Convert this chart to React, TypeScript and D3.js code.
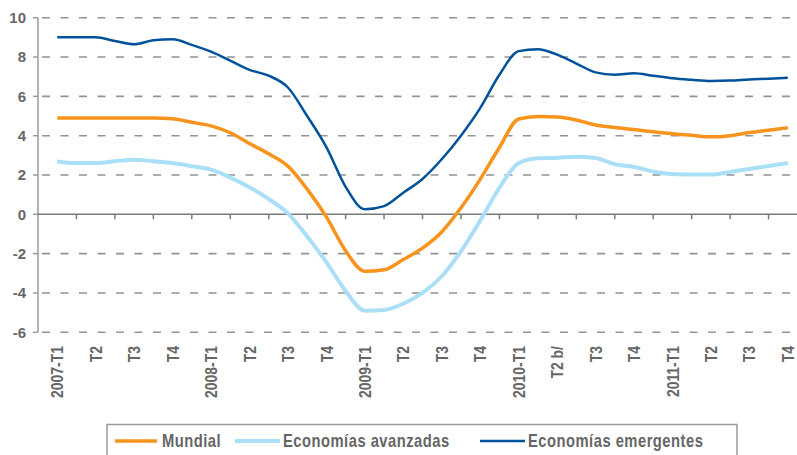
import React from "react";
import * as d3 from "d3";

// quarter labels along the x axis
const categories = [
  "2007-T1", "T2", "T3", "T4",
  "2008-T1", "T2", "T3", "T4",
  "2009-T1", "T2", "T3", "T4",
  "2010-T1", "T2 b/", "T3", "T4",
  "2011-T1", "T2", "T3", "T4",
];

// values every half quarter, starting at 2007-T1
const mundial = [
  4.9, 4.9, 4.9, 4.9, 4.9, 4.9, 4.86, 4.68, 4.5, 4.15,
  3.6, 3.08, 2.45, 1.28, -0.13, -1.85, -2.9, -2.82, -2.3, -1.72,
  -0.9, 0.33, 1.78, 3.4, 4.85, 4.98, 4.95, 4.8, 4.54, 4.41,
  4.31, 4.2, 4.1, 4.02, 3.94, 4.0, 4.16, 4.28, 4.4,
];
const avanzadas = [
  2.69, 2.61, 2.61, 2.7, 2.78, 2.7, 2.61, 2.45, 2.27, 1.87,
  1.38, 0.78, 0.05, -1.13, -2.43, -3.9, -4.9, -4.86, -4.55, -4.0,
  -3.15, -1.88, -0.32, 1.35, 2.6, 2.85, 2.87, 2.93, 2.87, 2.55,
  2.41, 2.18, 2.05, 2.02, 2.02, 2.16, 2.31, 2.46, 2.61,
];
const emergentes = [
  9.0, 9.0, 9.0, 8.82, 8.65, 8.85, 8.9, 8.62, 8.27, 7.82,
  7.35, 7.05, 6.45, 5.0, 3.42, 1.4, 0.26, 0.42, 1.1, 1.8,
  2.8, 4.0, 5.4, 7.1, 8.3, 8.4, 8.12, 7.67, 7.22, 7.1,
  7.18, 7.05, 6.92, 6.84, 6.78, 6.8, 6.86, 6.9, 6.95,
];

const yTicks = [-6, -4, -2, 0, 2, 4, 6, 8, 10];

const series = [
  { name: "Mundial", values: mundial, color: "#f7941d", width: 3.5 },
  { name: "Economías avanzadas", values: avanzadas, color: "#abdff8", width: 4 },
  { name: "Economías emergentes", values: emergentes, color: "#00529b", width: 2.5 },
];

const sans = "'Liberation Sans', Arial, sans-serif";
const grey = "#666";
const squeeze = 0.82; // fake a condensed face

export default function App() {
  const width = 797;
  const height = 455;
  const left = 38;
  const right = 807;
  const top = 17.7;
  const bottom = 332.3;

  const band = d3.scaleBand().domain(categories.map((c, i) => String(i))).range([left, right]);
  const xq = d3.scaleLinear().domain([0, categories.length]).range([left, right]);
  const y = d3.scaleLinear().domain([-6, 10]).range([bottom, top]);

  const line = d3
    .line<number>()
    .x((_, i) => xq(i / 2 + 0.5))
    .y((d) => y(d))
    .curve(d3.curveMonotoneX);

  const legendItems = [
    { x1: 115, x2: 157, tx: 162 },
    { x1: 235, x2: 280, tx: 283 },
    { x1: 480, x2: 525, tx: 528 },
  ];

  return (
    <svg
      width={width}
      height={height}
      style={{ position: "absolute", left: 0, top: 0, background: "#fff" }}
    >
      {/* dashed grid */}
      {yTicks.filter((t) => t !== 0).map((t) => (
        <line
          key={"g" + t}
          x1={left}
          x2={width}
          y1={y(t)}
          y2={y(t)}
          stroke="#939393"
          strokeWidth={1.6}
          strokeDasharray="8 10.5"
          strokeDashoffset={-4}
        />
      ))}

      {/* y axis */}
      <line x1={left} x2={left} y1={top} y2={bottom} stroke="#9a9a9a" strokeWidth={1.5} />
      {yTicks.map((t) => (
        <g key={"yt" + t}>
          <line x1={left - 5} x2={left} y1={y(t)} y2={y(t)} stroke="#9a9a9a" strokeWidth={1.5} />
          <text
            x={26}
            y={y(t)}
            dy="0.36em"
            textAnchor="end"
            fontFamily={sans}
            fontWeight="bold"
            fontSize={15}
            fill={grey}
          >
            {t}
          </text>
        </g>
      ))}

      {/* zero line with category ticks */}
      <line x1={left} x2={width} y1={y(0)} y2={y(0)} stroke="#7a7a7a" strokeWidth={1.5} />
      {categories.map((c, i) =>
        i === 0 ? null : (
          <line
            key={"xt" + i}
            x1={xq(i)}
            x2={xq(i)}
            y1={y(0)}
            y2={y(0) + 5}
            stroke="#7a7a7a"
            strokeWidth={1.5}
          />
        )
      )}

      {/* x labels */}
      {categories.map((c, i) => {
        const cx = (band(String(i)) ?? 0) + band.bandwidth() / 2;
        return (
          <text
            key={"xl" + i}
            transform={`translate(${cx},346) rotate(-90) scale(${squeeze},1)`}
            dy="0.36em"
            textAnchor="end"
            fontFamily={sans}
            fontWeight="bold"
            fontSize={17}
            fill={grey}
          >
            {c}
          </text>
        );
      })}

      {/* series */}
      {series.map((s) => (
        <path
          key={s.name}
          d={line(s.values) ?? ""}
          fill="none"
          stroke={s.color}
          strokeWidth={s.width}
          strokeLinejoin="round"
        />
      ))}

      {/* legend */}
      <rect x={107} y={424.5} width={630} height={40} fill="none" stroke="#9a9a9a" strokeWidth={1.5} />
      {series.map((s, i) => (
        <g key={"lg" + s.name}>
          <line
            x1={legendItems[i].x1}
            x2={legendItems[i].x2}
            y1={441}
            y2={441}
            stroke={s.color}
            strokeWidth={s.width}
          />
          <text
            transform={`translate(${legendItems[i].tx},441) scale(${squeeze},1)`}
            dy="0.36em"
            fontFamily={sans}
            fontWeight="bold"
            fontSize={18}
            letterSpacing={0.6}
            fill={grey}
          >
            {s.name}
          </text>
        </g>
      ))}
    </svg>
  );
}
